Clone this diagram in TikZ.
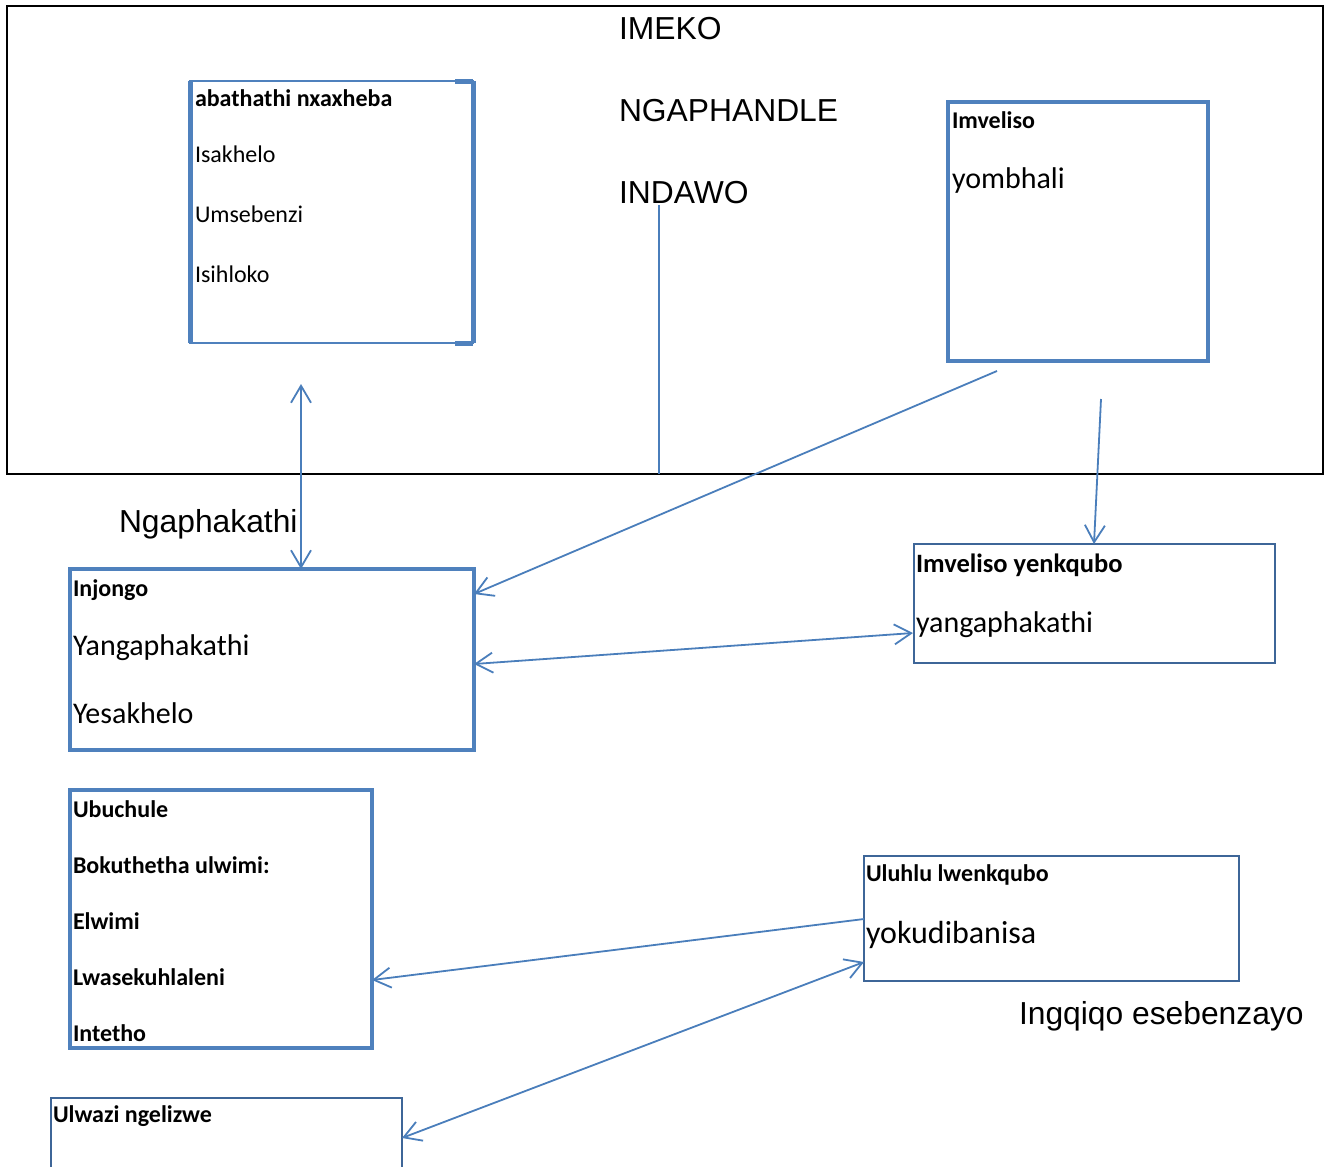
\documentclass[tikz,border=0pt]{standalone}
\usepackage{fontspec}
\setmainfont{Carlito}
\newfontfamily\arialf{Liberation Sans}
\usetikzlibrary{arrows.meta,calc}
\definecolor{boxblue}{RGB}{79,129,189}
\definecolor{thinblue}{RGB}{62,102,152}
\definecolor{arrblue}{RGB}{74,126,187}
\tikzset{
  boxbase/.style={rectangle, anchor=north west, inner sep=0pt, outer sep=0pt},
  thickbox/.style={boxbase, draw=boxblue, line width=4.5pt},
  thinbox/.style={boxbase, draw=thinblue, line width=1.8pt},
  lbl/.style={anchor=base west, inner sep=0pt, outer sep=0pt},
  ttl/.style={lbl, font=\fontsize{24}{28}\selectfont\bfseries},
  big/.style={lbl, font=\fontsize{30}{35}\selectfont},
  mid/.style={lbl, font=\fontsize{24}{28}\selectfont},
  sanslbl/.style={lbl, font=\arialf\fontsize{31.8}{37}\selectfont},
  conn/.style={draw=arrblue, line width=1.8pt},
  vee/.tip={Straight Barb[length=17pt,width=20pt]}
}
\begin{document}
\begin{tikzpicture}[x=1pt,y=-1pt]
\useasboundingbox (0,0) rectangle (1325,1167);
% outer environment frame
\node[boxbase, draw=black, line width=2pt, minimum width=1316pt, minimum height=468pt] (outer) at (7,6) {};
% boxes
\node[boxbase, draw=boxblue, line width=2.5pt, minimum width=283pt, minimum height=262pt] (box1) at (190,81) {};
\draw[boxblue, line width=5pt] (box1.north west) -- (box1.south west);
\draw[boxblue, line width=5pt] (box1.north east) -- (box1.south east);
\draw[boxblue, line width=5pt] ($(box1.north east)+(-18,0)$) -- (box1.north east);
\draw[boxblue, line width=5pt] ($(box1.south east)+(-18,0)$) -- (box1.south east);
\node[thickbox, minimum width=260pt, minimum height=259pt] (imv) at (948,102) {};
\node[thickbox, minimum width=404pt, minimum height=181pt] (inj) at (70,569) {};
\node[thinbox, minimum width=361pt, minimum height=119pt] (yenk) at (914,544) {};
\node[thickbox, minimum width=302pt, minimum height=258pt] (ubu) at (70,790) {};
\node[thinbox, minimum width=351pt, minimum height=110pt] (ulw) at (51,1098) {};
\node[thinbox, minimum width=375pt, minimum height=125pt] (ulu) at (864,856) {};
% texts in the frame
\node[sanslbl] (imeko) at (619,39) {IMEKO};
\node[sanslbl] (ngaph) at (619,121) {NGAPHANDLE};
\node[sanslbl] (indawo) at (619,203) {INDAWO};
\node[sanslbl] (ngak) at (119,532) {Ngaphakathi};
\node[sanslbl] (ingq) at (1019,1024) {Ingqiqo esebenzayo};
% box 1 texts
\node[ttl] (t1a) at (195,106) {abathathi nxaxheba};
\node[mid] (t1b) at (195,162) {Isakhelo};
\node[mid] (t1c) at (195,222) {Umsebenzi};
\node[mid] (t1d) at (195,282) {Isihloko};
% imveliso
\node[ttl] (t2a) at (952,128) {Imveliso};
\node[big] (t2b) at (952,188) {yombhali};
% injongo
\node[ttl] (t3a) at (73,596) {Injongo};
\node[big] (t3b) at (73,655) {Yangaphakathi};
\node[big] (t3c) at (73,723) {Yesakhelo};
% imveliso yenkqubo
\node[ttl, font=\fontsize{26.5}{30}\selectfont\bfseries] (t4a) at (916,572) {Imveliso yenkqubo};
\node[big] (t4b) at (916,632) {yangaphakathi};
% ubuchule
\node[ttl] (t5a) at (73,817) {Ubuchule};
\node[ttl] (t5b) at (73,873) {Bokuthetha ulwimi:};
\node[ttl] (t5c) at (73,929) {Elwimi};
\node[ttl] (t5d) at (73,985) {Lwasekuhlaleni};
\node[ttl] (t5e) at (73,1041) {Intetho};
% ulwazi
\node[ttl] (t6a) at (53,1122) {Ulwazi ngelizwe};
% uluhlu
\node[ttl] (t7a) at (866,881) {Uluhlu lwenkqubo};
\node[big, font=\fontsize{32}{37}\selectfont] (t7b) at (866,943) {yokudibanisa};
% connectors
\coordinate (c1) at ($(box1.south west)+(111,41)$);
\draw[conn, {vee}-{vee}] (c1) -- ($(inj.north west)+(231,0)$);
\draw[conn, -{vee}] ($(imv.south west)+(49,10)$) -- ($(inj.north east)+(0,25)$);
\coordinate (ind1) at ($(indawo.base west)+(40,2)$);
\draw[conn] (ind1) -- (ind1 |- outer.south);
\draw[conn, -{vee}] ($(imv.south west)+(153,38)$) -- ($(yenk.north west)+(180,0)$);
\draw[conn, {vee}-{vee}] ($(inj.north east)+(0,95)$) -- ($(yenk.north west)+(-1,89)$);
\draw[conn, -{vee}] ($(ulu.north west)+(0,63)$) -- ($(ubu.north east)+(0,190)$);
\draw[conn, {vee}-{vee}] ($(ulw.north east)+(0,40)$) -- ($(ulu.north west)+(0,106)$);
\end{tikzpicture}
\end{document}
